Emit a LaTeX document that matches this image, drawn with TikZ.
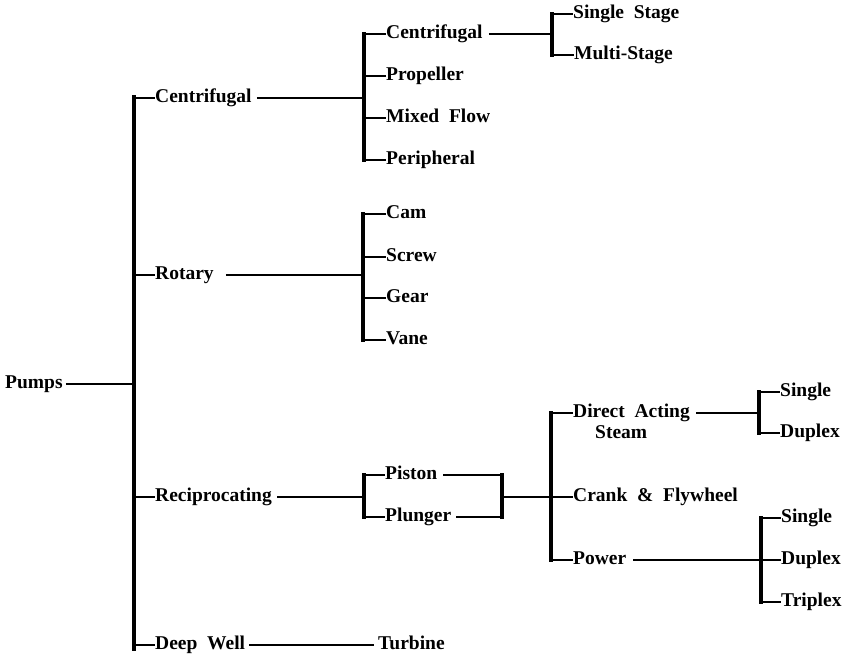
\documentclass[tikz,border=0pt]{standalone}
\usepackage{fontspec}
\setmainfont{Liberation Serif}[WordSpace=2]
\begin{document}
\begin{tikzpicture}[x=1pt,y=-1pt,
  lbl/.style={anchor=west,inner sep=0pt,font=\fontsize{19.5}{21}\selectfont\bfseries,text height=13pt,text depth=4pt},
  bar/.style={line width=3.4pt,line cap=rect},
  ln/.style={line width=2.2pt}]
\useasboundingbox (0,0) rectangle (852,655);
% bar x positions
\coordinate (x0) at (134,0);
\coordinate (x1) at (364,0);
\coordinate (x1r) at (363,0);
\coordinate (x2) at (552,0);
\coordinate (x3) at (502,0);
\coordinate (x4) at (551,0);
\coordinate (x5) at (759,0);
\coordinate (x6) at (761,0);
% nodes
\node[lbl] (pumps) at (5,384) {Pumps};
\node[lbl] (cen1) at (155,98) {Centrifugal};
\node[lbl] (rot) at (155,275) {Rotary};
\node[lbl] (rec) at (155,497) {Reciprocating};
\node[lbl] (dw) at (155,645) {Deep Well};
\node[lbl] (turb) at (378,645) {Turbine};
\node[lbl] (cen2) at (386,34) {Centrifugal};
\node[lbl] (prop) at (386,76) {Propeller};
\node[lbl] (mix) at (386,118) {Mixed Flow};
\node[lbl] (peri) at (386,160) {Peripheral};
\node[lbl] (ss) at (573,14) {Single Stage};
\node[lbl] (ms) at (574,55) {Multi-Stage};
\node[lbl] (cam) at (386,214) {Cam};
\node[lbl] (screw) at (386,257) {Screw};
\node[lbl] (gear) at (386,298) {Gear};
\node[lbl] (vane) at (386,340) {Vane};
\node[lbl] (pist) at (385,475) {Piston};
\node[lbl] (plun) at (385,517) {Plunger};
\node[lbl] (da) at (573,413) {Direct Acting};
\node[lbl] (steam) at (595,434) {Steam};
\node[lbl] (crank) at (573,497) {Crank \& Flywheel};
\node[lbl] (pow) at (573,560) {Power};
\node[lbl] (sa) at (780,392) {Single};
\node[lbl] (da2) at (780,433) {Duplex};
\node[lbl] (sp) at (781,518) {Single};
\node[lbl] (dp) at (781,560) {Duplex};
\node[lbl] (tp) at (781,602) {Triplex};
% level 0
\draw[ln] ([xshift=3pt]pumps.east) -- (pumps.east -| x0);
\draw[bar] ([yshift=1pt]cen1.west -| x0) -- ([yshift=-4pt]dw.west -| x0);
\foreach \n in {cen1,rot,rec,dw} \draw[ln] (\n.west -| x0) -- (\n.west);
\draw[ln] ([xshift=4pt]dw.east) -- ([xshift=-4pt]turb.west);
% centrifugal
\draw[ln] ([xshift=5pt]cen1.east) -- (cen1.east -| x1);
\draw[bar] (cen2.west -| x1) -- (peri.west -| x1);
\foreach \n in {cen2,prop,mix,peri} \draw[ln] (\n.west -| x1) -- (\n.west);
\draw[ln] ([xshift=6pt]cen2.east) -- (cen2.east -| x2);
\draw[bar] (ss.west -| x2) -- (ms.west -| x2);
\draw[ln] (ss.west -| x2) -- (ss.west);
\draw[ln] (ms.west -| x2) -- (ms.west);
% rotary
\draw[ln] ([xshift=12pt]rot.east) -- (rot.east -| x1r);
\draw[bar] (cam.west -| x1r) -- (vane.west -| x1r);
\foreach \n in {cam,screw,gear,vane} \draw[ln] (\n.west -| x1r) -- (\n.west);
% reciprocating
\draw[ln] ([xshift=5pt]rec.east) -- (rec.east -| x1);
\draw[bar] (pist.west -| x1) -- (plun.west -| x1);
\draw[ln] (pist.west -| x1) -- (pist.west);
\draw[ln] (plun.west -| x1) -- (plun.west);
\draw[ln] ([xshift=6pt]pist.east) -- (pist.east -| x3);
\draw[ln] ([xshift=5pt]plun.east) -- (plun.east -| x3);
\draw[bar] (pist.east -| x3) -- (plun.east -| x3);
\draw[ln] (rec.east -| x3) -- (crank.west -| x4);
\draw[bar] (da.west -| x4) -- (pow.west -| x4);
\foreach \n in {da,crank,pow} \draw[ln] (\n.west -| x4) -- (\n.west);
\draw[ln] ([xshift=6pt]da.east) -- (da.east -| x5);
\draw[bar] (sa.west -| x5) -- (da2.west -| x5);
\draw[ln] (sa.west -| x5) -- (sa.west);
\draw[ln] (da2.west -| x5) -- (da2.west);
\draw[ln] ([xshift=7pt]pow.east) -- (pow.east -| x6);
\draw[bar] (sp.west -| x6) -- (tp.west -| x6);
\foreach \n in {sp,dp,tp} \draw[ln] (\n.west -| x6) -- (\n.west);
\end{tikzpicture}
\end{document}
